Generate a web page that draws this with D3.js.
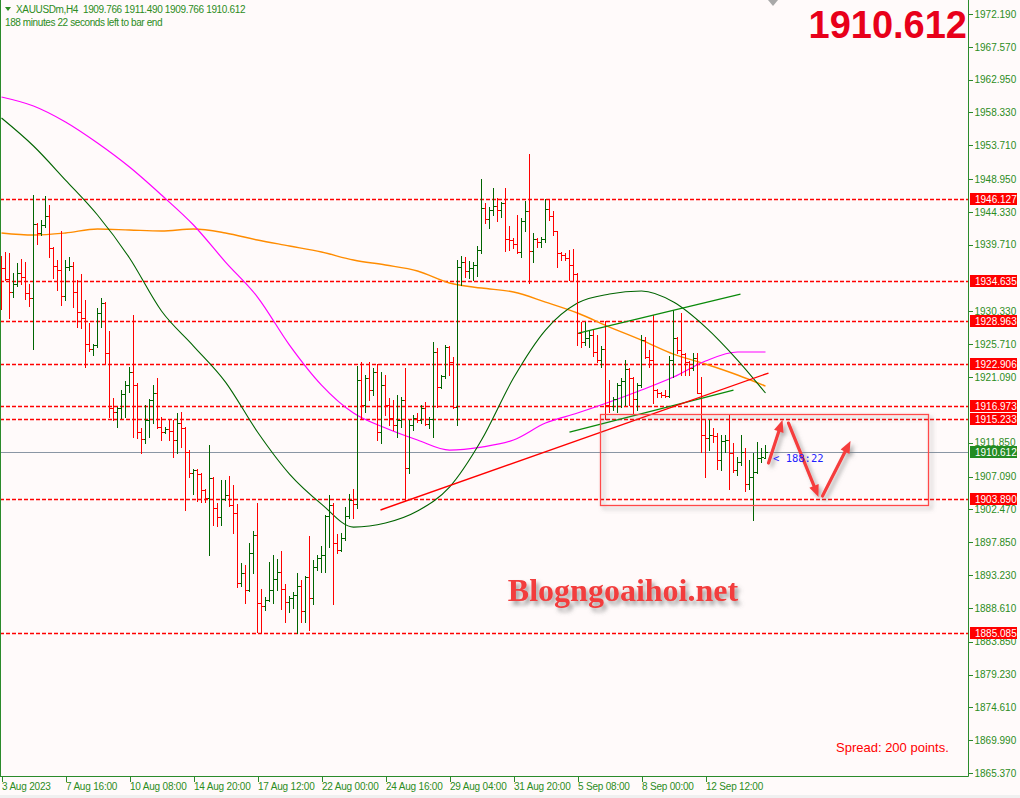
<!DOCTYPE html>
<html><head><meta charset="utf-8">
<script src="https://cdn.jsdelivr.net/npm/d3@7"></script>
<style>
html,body{margin:0;padding:0;background:#fffafa;}
svg{display:block;}
text{font-family:"Liberation Sans",Arial,sans-serif;}
</style></head><body>
<svg id="c" width="1020" height="798"></svg>
<script>
// ---------- DATA ----------
const symbolText = "XAUUSDm,H4";
const quoteText = "1909.766 1911.490 1909.766 1910.612";
const timerText = "188 minutes 22 seconds left to bar end";
const countdownText = "< 188:22";
const bidPrice = 1910.612;
const spreadText = "Spread: 200 points.";
const watermarkText = "Blogngoaihoi.net";

const opens = [1937.6,1936.4,1934.9,1933.1,1934.2,1935.7,1935.2,1932.9,1932.2,1942.6,1941.4,1942.5,1943.8,1939.3,1936.7,1936.2,1932.5,1936.6,1936.7,1933.1,
1930.2,1929.4,1925.7,1925.0,1925.6,1930.1,1931.5,1924.5,1916.7,1916.2,1916.7,1918.7,1920.0,1921.8,1920.0,1913.4,1912.4,1915.0,1917.9,1918.8,
1914.1,1913.4,1913.8,1913.5,1912.2,1914.6,1913.9,1910.5,1907.6,1908.0,1907.4,1905.2,1904.1,1906.9,1902.7,1901.4,1903.9,1904.5,1903.1,1902.0,
1892.1,1893.5,1891.1,1896.3,1898.9,1889.3,1888.9,1889.7,1891.1,1892.7,1893.7,1891.3,1889.4,1890.0,1890.4,1891.7,1888.2,1893.0,1890.0,1894.4,
1895.6,1896.0,1901.5,1903.1,1897.7,1896.8,1898.4,1901.5,1903.8,1903.2,1920.7,1917.2,1920.9,1919.3,1921.8,1913.4,1920.0,1917.2,1915.3,1914.3,
1915.0,1917.9,1908.3,1914.3,1915.3,1915.0,1916.7,1914.5,1915.2,1924.6,1919.7,1921.2,1925.3,1923.2,1916.9,1936.6,1937.3,1936.0,1936.4,1936.9,
1939.0,1944.9,1943.3,1944.6,1945.2,1944.6,1945.6,1940.5,1940.4,1939.8,1938.7,1943.1,1944.5,1938.8,1940.5,1940.1,1940.5,1944.7,1943.8,1941.6,
1938.5,1938.3,1937.9,1936.9,1935.6,1927.3,1926.0,1926.6,1927.0,1924.6,1923.5,1925.0,1917.2,1917.0,1918.0,1920.0,1920.5,1922.2,1920.9,1918.0,
1920.0,1926.3,1923.9,1923.5,1919.3,1918.8,1918.5,1918.4,1923.5,1926.6,1924.9,1924.3,1923.2,1922.3,1923.8,1918.9,1912.9,1912.5,1912.9,1912.8,
1909.4,1912.1,1912.2,1910.4,1908.0,1909.1,1910.6,1906.0,1907.0,1907.7,1909.7,1909.766];
const highs = [1938.1,1938.7,1938.5,1935.7,1937.1,1937.7,1937.3,1934.2,1946.7,1942.8,1943.2,1946.6,1945.3,1939.4,1937.6,1941.6,1937.6,1938.0,1937.3,1934.8,
1935.6,1931.9,1928.7,1925.8,1930.8,1932.2,1931.6,1927.6,1918.1,1916.9,1919.3,1920.5,1922.5,1929.8,1920.3,1913.9,1917.2,1918.0,1920.0,1921.0,
1915.5,1914.1,1915.2,1915.0,1916.0,1916.2,1914.0,1910.8,1908.2,1908.1,1907.6,1905.3,1911.5,1907.0,1903.4,1906.6,1906.6,1907.1,1905.9,1903.2,
1894.9,1894.6,1897.7,1899.4,1903.4,1891.3,1890.1,1895.1,1896.0,1895.5,1896.6,1892.0,1890.3,1890.8,1893.5,1892.5,1893.1,1898.7,1895.3,1896.0,
1897.3,1901.7,1904.5,1903.4,1899.0,1899.1,1902.8,1904.6,1905.3,1922.6,1923.2,1921.4,1923.2,1922.4,1922.9,1921.8,1921.4,1918.1,1917.9,1918.6,
1918.3,1922.4,1915.0,1915.8,1916.0,1917.2,1917.6,1915.5,1926.0,1925.2,1921.4,1925.6,1925.5,1923.9,1937.6,1938.1,1938.0,1937.4,1937.3,1939.5,
1949.0,1945.6,1945.0,1947.7,1946.3,1945.7,1947.7,1942.4,1940.7,1943.9,1943.5,1945.9,1952.5,1941.4,1940.7,1940.8,1946.2,1946.0,1944.5,1941.7,
1938.7,1938.5,1939.0,1939.1,1935.7,1928.8,1928.8,1927.7,1927.7,1927.0,1925.5,1929.0,1920.7,1918.3,1920.2,1920.9,1923.5,1922.4,1921.1,1920.2,
1927.0,1926.7,1924.9,1929.8,1919.4,1919.0,1919.3,1924.0,1930.5,1926.7,1930.1,1924.5,1923.4,1924.5,1924.5,1921.1,1915.0,1915.0,1913.9,1913.2,
1912.9,1912.9,1915.7,1911.8,1909.8,1912.9,1911.1,1909.4,1910.4,1911.9,1911.1,1911.490];
const lows = [1930.7,1934.8,1929.4,1932.3,1933.9,1934.2,1932.1,1931.1,1925.0,1939.8,1941.1,1942.2,1938.0,1935.0,1933.3,1931.2,1931.9,1936.2,1931.0,1928.1,
1928.0,1922.5,1924.8,1924.2,1925.3,1928.1,1922.9,1915.5,1915.0,1914.1,1915.3,1915.5,1919.0,1912.6,1912.5,1910.4,1911.8,1912.6,1914.6,1913.9,
1912.2,1913.2,1912.2,1909.8,1910.4,1911.2,1902.4,1907.0,1904.6,1903.6,1903.5,1903.5,1896.0,1900.3,1900.1,1900.3,1903.8,1903.0,1899.1,1891.5,
1891.7,1889.3,1891.0,1893.5,1885.2,1885.1,1888.3,1889.6,1889.3,1891.1,1888.4,1886.6,1888.0,1888.6,1885.1,1886.6,1886.6,1885.5,1889.1,1893.9,
1893.7,1893.7,1897.2,1889.1,1896.3,1896.6,1898.2,1901.2,1901.2,1902.7,1915.3,1916.2,1917.9,1918.6,1912.2,1911.8,1915.7,1914.3,1913.6,1912.6,
1914.1,1903.8,1907.6,1913.6,1914.8,1914.6,1914.3,1913.9,1912.6,1916.9,1919.5,1921.0,1921.4,1916.7,1914.3,1934.0,1935.2,1935.0,1934.8,1935.3,
1938.5,1942.8,1942.1,1943.9,1943.0,1943.6,1938.8,1939.0,1939.3,1938.5,1938.0,1941.7,1934.3,1937.3,1939.4,1939.4,1940.1,1943.2,1941.1,1936.6,
1937.6,1937.6,1934.8,1934.8,1925.6,1925.3,1925.6,1925.3,1924.1,1923.2,1922.5,1915.2,1916.2,1916.5,1916.2,1916.9,1917.2,1917.2,1916.0,1916.4,
1919.7,1923.8,1922.5,1917.4,1918.3,1918.3,1918.3,1918.3,1921.1,1924.5,1921.4,1921.4,1921.4,1922.1,1918.8,1910.5,1907.0,1910.8,1912.0,1908.2,
1908.0,1910.5,1905.3,1907.7,1907.3,1908.7,1905.1,1905.3,1901.0,1907.6,1909.1,1909.766];
const closes = [1936.4,1934.9,1933.1,1934.2,1935.7,1935.2,1932.9,1932.2,1942.6,1941.4,1942.5,1943.8,1939.3,1936.7,1936.2,1932.5,1936.6,1936.7,1933.1,1930.2,
1929.4,1925.7,1925.0,1925.6,1930.1,1931.5,1924.5,1916.7,1916.2,1916.7,1918.7,1920.0,1921.8,1920.0,1913.4,1912.4,1915.0,1917.9,1918.8,1914.1,
1913.4,1913.8,1913.5,1912.2,1914.6,1913.9,1910.5,1907.6,1908.0,1907.4,1905.2,1904.1,1906.9,1902.7,1901.4,1903.9,1904.5,1903.1,1902.0,1892.1,
1893.5,1891.1,1896.3,1898.9,1889.3,1888.9,1889.7,1891.1,1892.7,1893.7,1891.3,1889.4,1890.0,1890.4,1891.7,1888.2,1893.0,1890.0,1894.4,1895.6,
1896.0,1901.5,1903.1,1897.7,1896.8,1898.4,1901.5,1903.8,1903.2,1920.7,1917.2,1920.9,1919.3,1921.8,1913.4,1920.0,1917.2,1915.3,1914.3,1915.0,
1917.9,1908.3,1914.3,1915.3,1915.0,1916.7,1914.5,1915.2,1924.6,1919.7,1921.2,1925.3,1923.2,1916.9,1936.6,1937.3,1936.0,1936.4,1936.9,1939.0,
1944.9,1943.3,1944.6,1945.2,1944.6,1945.6,1940.5,1940.4,1939.8,1938.7,1943.1,1944.5,1938.8,1940.5,1940.1,1940.5,1944.7,1943.8,1941.6,1938.5,
1938.3,1937.9,1936.9,1935.6,1927.3,1926.0,1926.6,1927.0,1924.6,1923.5,1925.0,1917.2,1917.0,1918.0,1920.0,1920.5,1922.2,1920.9,1918.0,1920.0,
1926.3,1923.9,1923.5,1919.3,1918.8,1918.5,1918.4,1923.5,1926.6,1924.9,1924.3,1923.2,1922.3,1923.8,1918.9,1912.9,1912.5,1912.9,1912.8,1909.4,
1912.1,1912.2,1910.4,1908.0,1909.1,1910.6,1906.0,1907.0,1907.7,1909.7,1909.8,1910.612];

const dateLabels = ["3 Aug 2023","7 Aug 16:00","10 Aug 08:00","14 Aug 20:00","17 Aug 12:00","22 Aug 00:00","24 Aug 16:00","29 Aug 04:00","31 Aug 20:00","5 Sep 08:00","8 Sep 00:00","12 Sep 12:00"];
const dateLabelBars = [0,16,32,48,64,80,96,112,128,144,160,176];
const priceTicks = [1972.190,1967.570,1962.950,1958.330,1953.710,1948.950,1944.330,1939.710,1930.330,1925.710,1921.090,1911.850,1907.090,1902.470,1897.850,1893.230,1888.610,1883.850,1879.230,1874.610,1869.990,1865.370];
const levelLines = [1946.127,1934.635,1928.963,1922.906,1916.973,1915.233,1903.890,1885.085];

// moving averages at these bars
const maBars = [0,8,16,24,32,40,48,56,64,72,80,88,96,104,112,120,128,136,144,152,160,168,176,184,191];
const maFast = [1957.55,1953.61,1948.82,1943.90,1937.85,1930.39,1925.46,1920.39,1913.36,1907.44,1903.22,1899.98,1900.55,1902.24,1905.61,1912.23,1920.96,1927.71,1931.51,1932.78,1933.20,1931.65,1928.13,1923.49,1918.85];
const maMid = [1960.51,1959.24,1956.99,1954.03,1950.65,1946.71,1942.49,1937.28,1932.36,1925.60,1919.97,1916.03,1913.92,1912.23,1910.82,1911.24,1912.23,1914.62,1916.03,1917.58,1919.27,1921.10,1923.35,1924.62,1924.62];
const maSlow = [1941.37,1941.08,1941.37,1941.93,1941.79,1941.65,1941.93,1941.37,1940.38,1939.54,1938.69,1937.56,1936.86,1936.02,1934.33,1933.62,1933.06,1931.65,1930.11,1928.13,1926.30,1924.33,1922.93,1921.38,1919.83];

// drawn objects: [bar index, price]
const trendRed = [[94.75,1902.38],[191.75,1921.66]];
const trendGreenUpper = [[144.25,1927.29],[184.75,1932.78]];
const trendGreenLower = [[142,1913.36],[183,1919.27]];
const zoneBars = [149.75,231.75];
const zonePrices = [1915.89,1903.08];
const arrowStarts = [[191.75,1908.99],[196.75,1914.62],[205.25,1904.35]];
const arrowEnds = [[195.25,1915.05],[204.25,1904.21],[212.25,1912.09]];

// ---------- DRAW ----------
const svg = d3.select('#c');
const GREEN_TXT = '#2c8c22', AXIS = '#2b8a2b', BULL = '#006400', BEAR = '#ff0000';
const plotRight = 968.5, plotBottom = 776.5;
const x = d3.scaleLinear().domain([0,242]).range([1.5,969.5]);
const y = d3.scaleLinear().domain([1865.37,1972.19]).range([773,14]);
const py = v => Math.round(y(v)) + 0.5;

svg.append('rect').attr('width',1020).attr('height',798).attr('fill','#fffafa');
svg.append('rect').attr('x',0).attr('y',795).attr('width',1020).attr('height',3).attr('fill','#f0f0f0');

const defs = svg.append('defs');
const sh = defs.append('filter').attr('id','sh').attr('x','-20%').attr('y','-20%').attr('width','150%').attr('height','150%');
sh.append('feDropShadow').attr('dx',3).attr('dy',3).attr('stdDeviation',2).attr('flood-color','#707070').attr('flood-opacity',0.55);
const sh2 = defs.append('filter').attr('id','sh2').attr('x','-10%').attr('y','-30%').attr('width','130%').attr('height','180%');
sh2.append('feDropShadow').attr('dx',3).attr('dy',4).attr('stdDeviation',2).attr('flood-color','#606060').attr('flood-opacity',0.6);

// level lines
svg.append('g').selectAll('line').data(levelLines).join('line')
  .attr('x1',0).attr('x2',plotRight).attr('y1',d=>py(d)).attr('y2',d=>py(d))
  .attr('stroke','#ff0000').attr('stroke-width',1.4).attr('stroke-dasharray','4,2');
// bid line
svg.append('line').attr('x1',0).attr('x2',plotRight).attr('y1',py(bidPrice)).attr('y2',py(bidPrice))
  .attr('stroke','#8a96a4').attr('stroke-width',1).attr('shape-rendering','crispEdges');

// moving averages
const maLine = d3.line().x(d=>x(d[0])).y(d=>y(d[1])).curve(d3.curveMonotoneX);
[[maSlow,'#ff8c00',1.4],[maMid,'#ff00ff',1.2],[maFast,'#006400',1.1]].forEach(([arr,col,w])=>{
  svg.append('path').attr('d',maLine(maBars.map((b,i)=>[b,arr[i]])))
    .attr('fill','none').attr('stroke',col).attr('stroke-width',w);
});

// bars
const bars = opens.map((o,i)=>({i,o,h:highs[i],l:lows[i],c:closes[i]}));
const gb = svg.append('g').attr('shape-rendering','crispEdges');
bars.forEach(b=>{
  const cx = Math.floor(x(b.i)) + 0.5;
  const col = b.c >= b.o ? BULL : BEAR;
  let y1 = py(b.h), y2 = py(b.l);
  if (y2 - y1 < 1) y2 = y1 + 1;
  gb.append('line').attr('x1',cx).attr('x2',cx).attr('y1',y1-0.5).attr('y2',y2+0.5).attr('stroke',col);
  gb.append('line').attr('x1',cx-2).attr('x2',cx).attr('y1',py(b.o)).attr('y2',py(b.o)).attr('stroke',col);
  gb.append('line').attr('x1',cx).attr('x2',cx+2.5).attr('y1',py(b.c)).attr('y2',py(b.c)).attr('stroke',col);
});

// trend lines
const seg = (pts,col,w)=>svg.append('line')
  .attr('x1',x(pts[0][0])).attr('y1',y(pts[0][1])).attr('x2',x(pts[1][0])).attr('y2',y(pts[1][1]))
  .attr('stroke',col).attr('stroke-width',w);
seg(trendGreenUpper,'#0a8a0a',1.3);
seg(trendGreenLower,'#0a8a0a',1.3);
seg(trendRed,'#ff0000',1.4);

// zone rectangle
svg.append('rect').attr('x',Math.round(x(zoneBars[0]))+0.5).attr('y',py(zonePrices[0]))
  .attr('width',x(zoneBars[1])-x(zoneBars[0])).attr('height',py(zonePrices[1])-py(zonePrices[0]))
  .attr('fill','none').attr('stroke','#ff4a4a').attr('stroke-width',1.3).attr('filter','url(#sh)');

// arrows
const ga = svg.append('g').attr('filter','url(#sh)');
arrowStarts.forEach((s,k)=>{
  const e = arrowEnds[k];
  const x1=x(s[0]), y1=y(s[1]), x2=x(e[0]), y2=y(e[1]);
  const ang = Math.atan2(y2-y1,x2-x1), L=12, Wd=5;
  const bx = x2 - L*Math.cos(ang), by = y2 - L*Math.sin(ang);
  ga.append('line').attr('x1',x1).attr('y1',y1).attr('x2',bx).attr('y2',by)
    .attr('stroke','#f53d3d').attr('stroke-width',3.2).attr('stroke-linecap','round');
  ga.append('polygon').attr('points',[[x2,y2],[bx+Wd*Math.sin(ang),by-Wd*Math.cos(ang)],[bx-Wd*Math.sin(ang),by+Wd*Math.cos(ang)]].map(p=>p.join(',')).join(' '))
    .attr('fill','#f53d3d');
});

// countdown
svg.append('text').attr('x',773).attr('y',462).text(countdownText)
  .attr('font-size',10.5).attr('fill','#1f1fff')
  .style('font-family','"DejaVu Sans Mono",monospace');

// watermark
svg.append('text').attr('x',623).attr('y',601).attr('text-anchor','middle').text(watermarkText)
  .style('font-family','"Liberation Serif","Times New Roman",serif').attr('font-weight','bold')
  .attr('font-size',32).attr('fill','#f23c3c').attr('filter','url(#sh2)');

// header
svg.append('polygon').attr('points','5,7 11,7 8,11').attr('fill',GREEN_TXT);
svg.append('text').attr('x',16).attr('y',13).attr('font-size',10).attr('fill',GREEN_TXT)
  .attr('letter-spacing','-0.35px').text(symbolText + '\u00a0\u00a0' + quoteText);
svg.append('text').attr('x',5).attr('y',26).attr('font-size',10).attr('fill',GREEN_TXT)
  .attr('letter-spacing','-0.4px').text(timerText);

// big price
svg.append('text').attr('x',967).attr('y',38).attr('text-anchor','end').attr('font-size',38)
  .attr('font-weight','bold').attr('fill','#e8001a').text(bidPrice.toFixed(3));

// spread
svg.append('text').attr('x',836).attr('y',752).attr('font-size',13).attr('fill','#ff0000').text(spreadText);

// shift marker
svg.append('polygon').attr('points','768,0 778,0 773,6').attr('fill','#a9a9a9');

// frame
svg.append('line').attr('x1',0.5).attr('x2',0.5).attr('y1',0).attr('y2',plotBottom).attr('stroke',AXIS);
svg.append('line').attr('x1',0).attr('x2',plotRight).attr('y1',plotBottom).attr('y2',plotBottom).attr('stroke',AXIS);
svg.append('line').attr('x1',plotRight).attr('x2',plotRight).attr('y1',0).attr('y2',plotBottom).attr('stroke',AXIS);

// price axis
const ay = svg.append('g').attr('transform',`translate(${plotRight},0)`)
  .call(d3.axisRight(y).tickValues(priceTicks).tickFormat(d=>d.toFixed(3)).tickSize(4).tickPadding(2));
ay.select('.domain').remove();
ay.selectAll('line').attr('stroke',AXIS).attr('shape-rendering','crispEdges');
ay.selectAll('text').attr('fill',GREEN_TXT).attr('font-size',10).style('font-family','"Liberation Sans",Arial,sans-serif');

// date axis
const ax = svg.append('g').attr('transform',`translate(0,${plotBottom})`)
  .call(d3.axisBottom(x).tickValues(dateLabelBars).tickFormat((d,i)=>dateLabels[i]).tickSize(5).tickPadding(1));
ax.select('.domain').remove();
ax.selectAll('line').attr('stroke',AXIS).attr('shape-rendering','crispEdges');
ax.selectAll('text').attr('fill',GREEN_TXT).attr('font-size',10).attr('text-anchor','start').attr('dx',0)
  .attr('letter-spacing','-0.2px').style('font-family','"Liberation Sans",Arial,sans-serif');

// level labels
const gl = svg.append('g');
levelLines.forEach(v=>{
  const cy = Math.round(y(v));
  gl.append('rect').attr('x',970).attr('y',cy-6).attr('width',47).attr('height',12).attr('fill','#ff0000');
  gl.append('text').attr('x',975).attr('y',cy+4).attr('font-size',10).attr('fill','#ffffff').text(v.toFixed(3));
});
{
  const cy = Math.round(y(bidPrice));
  gl.append('rect').attr('x',970).attr('y',cy-6).attr('width',47).attr('height',12).attr('fill','#238c23');
  gl.append('text').attr('x',975).attr('y',cy+4).attr('font-size',10).attr('fill','#ffffff').text(bidPrice.toFixed(3));
}
</script>
</body></html>
